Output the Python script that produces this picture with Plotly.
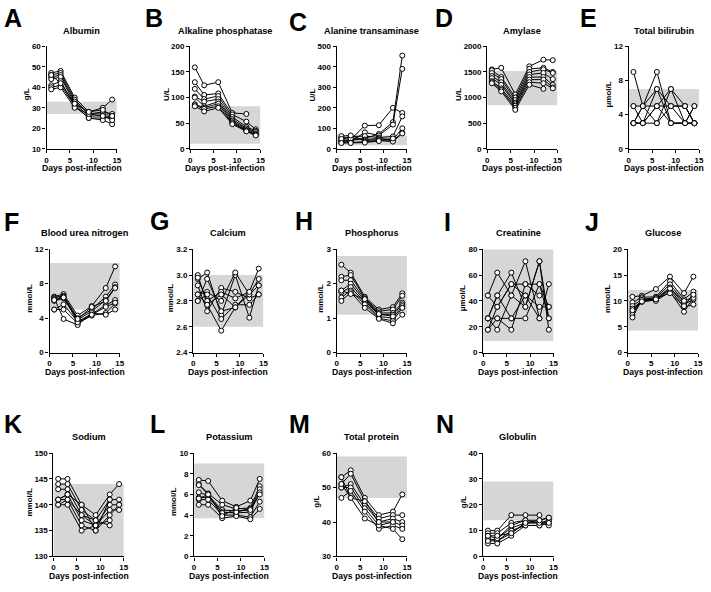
import plotly.graph_objects as go

DAYS = [1, 3, 6, 9, 12, 14]

ALBUMIN = [[47, 48, 35, 28, 30, 34], [46, 47, 34, 27, 28, 27], [45, 46, 33, 27, 27, 26],
           [44, 45, 32, 26, 26, 25], [41, 43, 31, 25, 25, 26], [40, 41, 31, 25, 24, 22],
           [39, 40, 30, 27, 26, 24], [46, 42, 32, 28, 29, 26]]
ALP = [[159, 124, 130, 70, 68, None], [130, 105, 108, 67, 53, 38], [117, 97, 103, 62, 43, 35],
       [102, 92, 97, 58, 40, 33], [100, 83, 92, 55, 38, 30], [87, 80, 88, 52, 36, 28],
       [85, 78, 83, 50, 35, 27], [83, 73, 80, 48, 34, 26]]
ALT = [[40, 45, 113, 115, 200, 175], [35, 40, 50, 72, 130, 455], [30, 35, 80, 65, 118, 390],
       [45, 60, 62, 55, 60, 158], [55, 50, 45, 50, 45, 100], [62, 65, 40, 45, 40, 78],
       [48, 30, 35, 40, 35, 75], [28, 28, 30, 38, 50, None]]
AMYLASE = [[1550, 1580, 1060, 1610, 1740, 1730], [1530, 1400, 1000, 1560, 1580, 1500],
           [1480, 1360, 950, 1500, 1550, 1480], [1420, 1300, 900, 1450, 1480, 1360],
           [1380, 1250, 870, 1400, 1400, 1250], [1320, 1180, 840, 1350, 1350, 1200],
           [1300, 1150, 800, 1300, 1280, 1180], [1280, 1120, 760, 1250, 1170, None]]
BILIRUBIN = [[9, 5, 9, 3, 3, 3], [5, 5, 5, 5, 5, 3], [3, 3, 7, 3, 3, 5], [3, 5, 7, 5, 3, 3],
             [3, 3, 3, 7, 5, 3], [5, 3, 5, 3, 3, 5], [3, 3, 5, 7, 3, 3], [3, 5, 3, 5, 5, 3]]
BUN = [[6.5, 6.8, 4.3, 5.4, 7.5, 10.0], [6.4, 6.6, 4.0, 5.0, 6.5, 7.9], [6.0, 6.3, 3.8, 4.8, 6.1, 7.6],
       [5.0, 5.6, 3.6, 4.5, 5.5, 6.1], [5.0, 5.0, 3.4, 4.3, 4.6, 5.7], [6.3, 3.9, 3.2, 4.6, 4.4, 5.0],
       [6.2, 6.5, 3.5, 4.4, 5.3, 5.8], [6.1, 6.4, 3.9, 5.3, 6.0, 7.5]]
CALCIUM = [[3.00, 2.77, 2.57, 2.75, 2.87, 3.05], [2.97, 3.02, 2.69, 3.00, 2.67, 2.92],
           [2.92, 2.72, 2.90, 2.87, 2.82, 2.85], [2.85, 2.87, 2.80, 3.02, 2.85, 2.97],
           [2.80, 2.85, 2.66, 2.77, 2.77, 2.85], [2.80, 2.97, 2.72, 2.75, 2.85, 2.92],
           [2.98, 2.80, 2.87, 2.82, 2.87, None], [2.85, 2.77, 2.85, 2.75, None, None]]
PHOSPHORUS = [[2.55, 2.32, 1.62, 1.25, 1.32, 1.72], [2.20, 2.25, 1.58, 1.20, 1.25, 1.65],
              [2.10, 2.10, 1.55, 1.15, 1.15, 1.45], [1.80, 2.00, 1.50, 1.10, 1.10, 1.40],
              [1.75, 1.90, 1.45, 1.05, 1.00, 1.35], [1.60, 1.80, 1.40, 1.00, 0.92, 1.30],
              [1.50, 1.75, 1.30, 0.98, 0.85, 1.10], [1.80, 1.70, 1.55, 1.12, 1.05, None]]
CREATININE = [[44.2, 61.9, 44.2, 70.7, 26.5, 53.0], [26.5, 44.2, 61.9, 35.4, 70.7, 17.7],
              [17.7, 35.4, 53.0, 44.2, 35.4, 35.4], [26.5, 26.5, 26.5, 26.5, 53.0, 26.5],
              [17.7, 26.5, 17.7, 53.0, 53.0, 35.4], [26.5, 17.7, 44.2, 35.4, 70.7, 26.5],
              [44.2, 35.4, 53.0, 53.0, 44.2, None], [26.5, 44.2, 26.5, 44.2, 26.5, None]]
GLUCOSE = [[10.8, 11.0, 12.3, 14.7, 11.5, 14.7], [9.7, 10.7, 10.8, 13.8, 10.3, 11.8],
           [9.0, 10.3, 10.6, 13.2, 9.8, 10.9], [8.5, 10.0, 10.4, 12.6, 9.3, 10.3],
           [7.8, 9.8, 10.2, 12.2, 8.8, 9.3], [7.3, 10.5, 10.0, 11.8, 7.9, 10.6],
           [6.8, 10.2, 10.5, 11.5, 9.0, 11.2], [8.2, 9.9, 10.3, 12.4, 10.0, None]]
SODIUM = [[145, 145, 140, 138, 142, 144], [144, 144, 139, 137, 141, 141], [143, 143, 138, 136, 140, 140],
          [141, 142, 137, 136, 139, 139], [141, 141, 136, 135, 138, 140], [140, 140, 135, 136, 137, None],
          [140, 141, 138, 137, 136, None], [141, 142, 140, 135, 141, None]]
POTASSIUM = [[7.4, 7.3, 5.4, 4.8, 5.4, 7.5], [7.0, 6.1, 5.0, 4.6, 4.7, 6.8], [6.2, 5.9, 4.5, 4.4, 4.5, 6.5],
             [5.7, 5.7, 4.3, 4.2, 4.3, 6.2], [5.5, 5.5, 4.0, 4.0, 3.8, 5.3], [5.0, 5.0, 3.7, 3.9, 3.6, 4.6],
             [5.6, 6.0, 4.2, 4.3, 4.6, 6.0], [6.9, 6.0, 3.9, 4.7, 4.5, None]]
TOTAL_PROTEIN = [[53, 55, 47, 42, 43, 48], [51, 54, 46, 41, 42, 42], [50, 51, 45, 40, 41, 40],
                 [50, 50, 44, 39, 40, 39], [47, 49, 43, 38, 39, 38], [53, 47, 41, 39, 38, 35],
                 [51, 47, 46, 40, 40, None]]
GLOBULIN = [[10, 10, 16, 16, 16, None], [9, 9, 13, 14, 14, 15], [8, 7, 11, 13, 13, 14],
            [7, 6, 10, 12, 12, 13], [6, 6, 9, 13, 13, 12], [5, 5, 8, 12, 12, 14],
            [6, 7, 12, 14, 13, 13], [8, 8, 9, 13, 14, 15]]

LETTERS = ["A", "B", "C", "D", "E", "F", "G", "H", "I", "J", "K", "L", "M", "N"]
TITLES = ["Albumin", "Alkaline phosphatase", "Alanine transaminase", "Amylase", "Total bilirubin",
          "Blood urea nitrogen", "Calcium", "Phosphorus", "Creatinine", "Glucose",
          "Sodium", "Potassium", "Total protein", "Globulin"]
UNITS = ["g/L", "U/L", "U/L", "U/L", "μmol/L", "mmol/L", "mmol/L", "mmol/L", "μmol/L", "mmol/L",
         "mmol/L", "mmol/L", "g/L", "g/L"]
SERIES = [ALBUMIN, ALP, ALT, AMYLASE, BILIRUBIN, BUN, CALCIUM, PHOSPHORUS, CREATININE, GLUCOSE,
          SODIUM, POTASSIUM, TOTAL_PROTEIN, GLOBULIN]
Y_TICKS = [[10, 20, 30, 40, 50, 60], [0, 50, 100, 150, 200], [0, 100, 200, 300, 400, 500],
           [0, 500, 1000, 1500, 2000], [0, 4, 8, 12], [0, 4, 8, 12], [2.4, 2.6, 2.8, 3.0, 3.2],
           [0, 1, 2, 3], [0, 20, 40, 60, 80], [0, 5, 10, 15, 20], [130, 135, 140, 145, 150],
           [0, 2, 4, 6, 8, 10], [30, 40, 50, 60], [0, 10, 20, 30, 40]]
Y_TICKTEXT = [None, None, None, None, None, None, ["2.4", "2.6", "2.8", "3.0", "3.2"],
              None, None, None, None, None, None, None]
REF_LOW = [27, 10, 17, 850, 5, 5.0, 2.6, 1.1, 9, 4.3, 130, 3.7, 47, 14]
REF_HIGH = [33, 83, 65, 1520, 7, 10.4, 3.0, 2.8, 80, 12.1, 144, 9.0, 59, 29]
X_TICKS = [0, 5, 10, 15]

# layout geometry (pixels)
W, H = 711, 592
P_LEFT = [45, 190, 338, 490, 633, 48, 193, 338, 486, 632, 52, 194, 338, 486]
P_TOP = [43] * 5 + [249] * 5 + [456] * 4
P_BOT = [147] * 5 + [354] * 5 + [561] * 4
P_W = 71
YT_OFF = [20, 24, 24, 29, 20, 20, 22, 16, 20, 20, 24, 20, 20, 20]
L_POS = [(11, 14), (154, 14), (299, 18), (446, 14), (592, 14),
         (10, 221), (159, 220), (305, 220), (450, 221), (596, 221),
         (11, 426), (157, 426), (300, 426), (447, 426)]

FONT = "Liberation Sans, Arial, sans-serif"
fig = go.Figure()
annotations = []
shapes = []
layout = dict(width=W, height=H, autosize=False, margin=dict(l=0, r=0, t=0, b=0),
              paper_bgcolor="white", plot_bgcolor="white", showlegend=False,
              font=dict(family=FONT, size=8, color="black", weight="bold"))

for i in range(14):
    n = "" if i == 0 else str(i + 1)
    xa, ya = "x" + n, "y" + n
    x0, x1 = P_LEFT[i] / W, (P_LEFT[i] + P_W) / W
    y0, y1 = 1 - P_BOT[i] / H, 1 - P_TOP[i] / H
    yt = Y_TICKS[i]
    layout["xaxis" + n] = dict(domain=[x0, x1], anchor=ya, range=[0, 15], tickvals=X_TICKS,
                               showline=True, linecolor="black", linewidth=1.3, ticks="outside",
                               ticklen=3, tickwidth=1.3, tickcolor="black", showgrid=False,
                               zeroline=False, tickfont=dict(size=8, weight="bold"),
                               ticklabelstandoff=0)
    layout["yaxis" + n] = dict(domain=[y0, y1], anchor=xa, range=[yt[0], yt[-1]], tickvals=yt,
                               ticktext=Y_TICKTEXT[i] if Y_TICKTEXT[i] else [str(v) for v in yt],
                               showline=True, linecolor="black", linewidth=1.3, ticks="outside",
                               ticklen=3, tickwidth=1.3, tickcolor="black", showgrid=False,
                               zeroline=False, tickfont=dict(size=8, weight="bold"),
                               ticklabelstandoff=0)
    shapes.append(dict(type="rect", xref=xa, yref=ya, x0=0, x1=15, y0=REF_LOW[i], y1=REF_HIGH[i],
                       fillcolor="#d6d6d6", line=dict(width=0), layer="below"))
    for subj in SERIES[i]:
        fig.add_trace(go.Scatter(x=DAYS, y=subj, xaxis=xa, yaxis=ya, mode="lines+markers",
                                 connectgaps=False, cliponaxis=False,
                                 line=dict(color="black", width=1),
                                 marker=dict(symbol="circle", size=5, color="white",
                                             line=dict(color="black", width=1))))
    cx = (P_LEFT[i] + P_W / 2) / W
    annotations.append(dict(text=TITLES[i], x=cx, y=1 - (P_TOP[i] - 16) / H, xref="paper", yref="paper",
                            showarrow=False, xanchor="center", yanchor="middle",
                            font=dict(size=9.2, weight="bold")))
    annotations.append(dict(text="Days post-infection", x=cx, y=1 - (P_BOT[i] + 20) / H, xref="paper",
                            yref="paper", showarrow=False, xanchor="center", yanchor="middle",
                            font=dict(size=8.6, weight="bold")))
    annotations.append(dict(text=UNITS[i], x=(P_LEFT[i] - YT_OFF[i]) / W,
                            y=1 - ((P_TOP[i] + P_BOT[i]) / 2 - 3) / H, xref="paper", yref="paper",
                            showarrow=False, xanchor="center", yanchor="middle", textangle=-90,
                            font=dict(size=8, weight="bold")))
    lx, ly = L_POS[i]
    annotations.append(dict(text=LETTERS[i], x=lx / W, y=1 - ly / H, xref="paper", yref="paper",
                            showarrow=False, xanchor="center", yanchor="middle",
                            font=dict(size=25, weight="bold")))

layout["annotations"] = annotations
layout["shapes"] = shapes
fig.update_layout(**layout)
fig.write_html("out.html")
